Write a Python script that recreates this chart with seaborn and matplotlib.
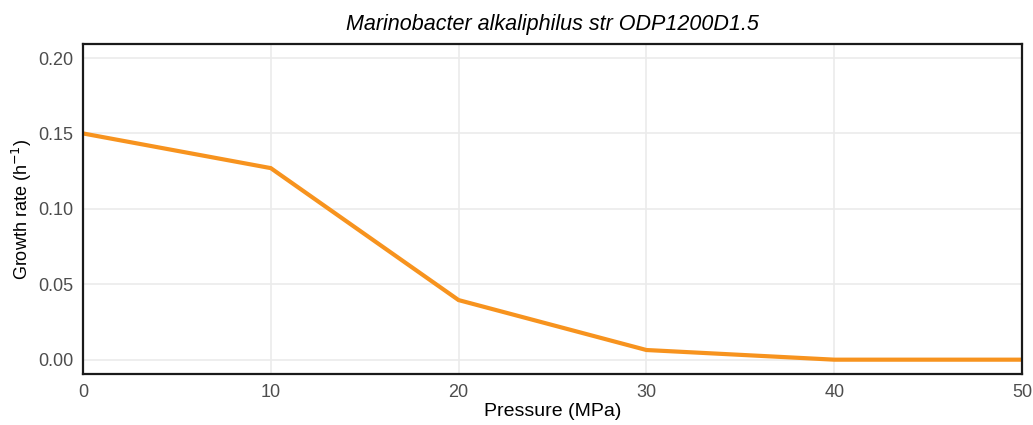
import matplotlib
matplotlib.use("Agg")
import matplotlib.pyplot as plt
import seaborn as sns
import pandas as pd

# Growth rate versus pressure
pressure = [0, 10, 20, 30, 40, 50]
growth_rate = [0.150, 0.127, 0.0395, 0.0064, 0.0, 0.0]
x_ticks = [0, 10, 20, 30, 40, 50]
y_ticks = [0.00, 0.05, 0.10, 0.15, 0.20]

df = pd.DataFrame({"Pressure": pressure, "Growth": growth_rate})

sns.set_theme(style="whitegrid")
plt.rcParams["font.family"] = ["Liberation Sans", "DejaVu Sans"]

fig = plt.figure(figsize=(10.33, 4.25), dpi=100)
ax = fig.add_axes([0.0803, 0.12, 0.9091, 0.7765])

sns.lineplot(data=df, x="Pressure", y="Growth", ax=ax, color="#F7931E",
             linewidth=3.0, solid_joinstyle="miter")

ax.set_xlim(0, 50)
ax.set_ylim(-0.0095, 0.2093)
ax.set_xticks(x_ticks)
ax.set_xticklabels([str(t) for t in x_ticks])
ax.set_yticks(y_ticks)
ax.set_yticklabels([f"{t:.2f}" for t in y_ticks])

ax.grid(True, color="#EBEBEB", linewidth=1.2)
for s in ax.spines.values():
    s.set_color("#1a1a1a")
    s.set_linewidth(1.6)

ax.tick_params(axis="both", labelsize=13, labelcolor="#4D4D4D", length=0, pad=7)
ax.set_xlabel("Pressure (MPa)", fontsize=14, color="black", labelpad=2)
ax.set_ylabel("Growth rate (h$^{-1}$)", fontsize=13, color="black", labelpad=3)
ax.set_title("Marinobacter alkaliphilus str ODP1200D1.5", fontsize=15.5,
             style="italic", color="black", pad=10)

fig.savefig("out.png", dpi=100)
